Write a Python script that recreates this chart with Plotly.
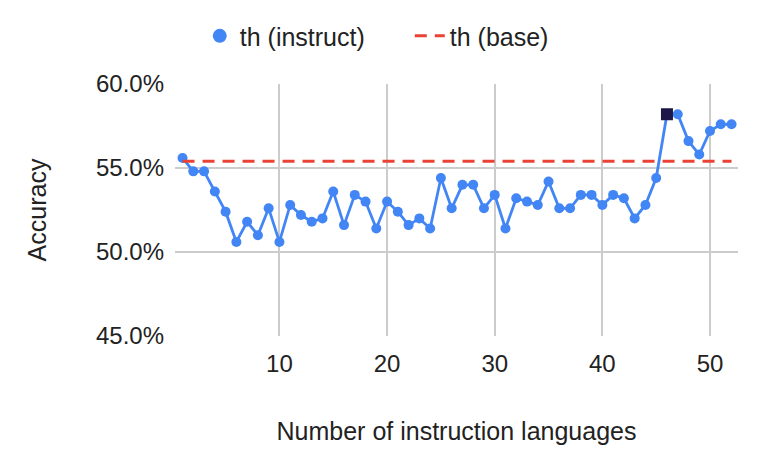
"""Accuracy vs number of instruction languages (th)."""

import plotly.graph_objects as go

# number of instruction languages used
n_langs = list(range(1, 53))

# accuracy of the instruct model, per language count
acc_instruct = [
    0.556, 0.548, 0.548, 0.536, 0.524, 0.506, 0.518, 0.510, 0.526, 0.506,
    0.528, 0.522, 0.518, 0.520, 0.536, 0.516, 0.534, 0.530, 0.514, 0.530,
    0.524, 0.516, 0.520, 0.514, 0.544, 0.526, 0.540, 0.540, 0.526, 0.534,
    0.514, 0.532, 0.530, 0.528, 0.542, 0.526, 0.526, 0.534, 0.534, 0.528,
    0.534, 0.532, 0.520, 0.528, 0.544, 0.582, 0.582, 0.566, 0.558, 0.572,
    0.576, 0.576,
]

# base model accuracy (flat reference)
acc_base = 0.554

# best point, drawn as a square
best_n = 46

BLUE = "#4285F4"
RED = "#EA4335"
NAVY = "#1c1748"

fig = go.Figure()
fig.add_trace(go.Scatter(
    x=n_langs, y=acc_instruct, mode="lines+markers",
    line=dict(color=BLUE, width=2.8), marker=dict(color=BLUE, size=10),
    showlegend=False, hoverinfo="x+y"
))
fig.add_trace(go.Scatter(
    x=[best_n], y=[acc_instruct[best_n - 1]], mode="markers",
    marker=dict(color=NAVY, size=12, symbol="square"),
    showlegend=False
))
# legend-only entry: marker without line, as in the original
fig.add_trace(go.Scatter(
    x=[None], y=[None], mode="markers", name="th (instruct)",
    marker=dict(color=BLUE, size=14)
))
fig.add_trace(go.Scatter(
    x=[n_langs[0], n_langs[-1]], y=[acc_base, acc_base], mode="lines",
    name="th (base)", line=dict(color=RED, width=3, dash="12px,8px")
))

# page body has an 8px margin, so margins are shifted by that
fig.update_layout(
    width=761, height=470,
    margin=dict(l=167, r=31, t=76, b=142, autoexpand=False),
    paper_bgcolor="white", plot_bgcolor="white",
    font=dict(family="Liberation Sans, Arial, sans-serif", size=24, color="#222222"),
    legend=dict(orientation="h", x=0.044, y=1.19, xanchor="left", yanchor="middle",
                font=dict(size=25), itemwidth=30, entrywidth=165,
                traceorder="normal"),
    xaxis=dict(
        title=dict(text="Number of instruction languages", standoff=46,
                   font=dict(size=25)),
        range=[0.3, 52.6], tickvals=[10, 20, 30, 40, 50],
        showgrid=True, gridcolor="#cccccc", gridwidth=1.5,
        zeroline=False, showline=False, ticks="", ticklabelstandoff=11,
        automargin=False
    ),
    yaxis=dict(
        title=dict(text="Accuracy", standoff=42, font=dict(size=25)),
        range=[0.45, 0.60], tickvals=[0.45, 0.50, 0.55, 0.60], tickformat=".1%",
        showgrid=True, gridcolor="#cccccc", gridwidth=1.5,
        zeroline=False, showline=False, ticks="", ticklabelstandoff=10,
        automargin=False
    ),
)

fig.write_html("out.html")
